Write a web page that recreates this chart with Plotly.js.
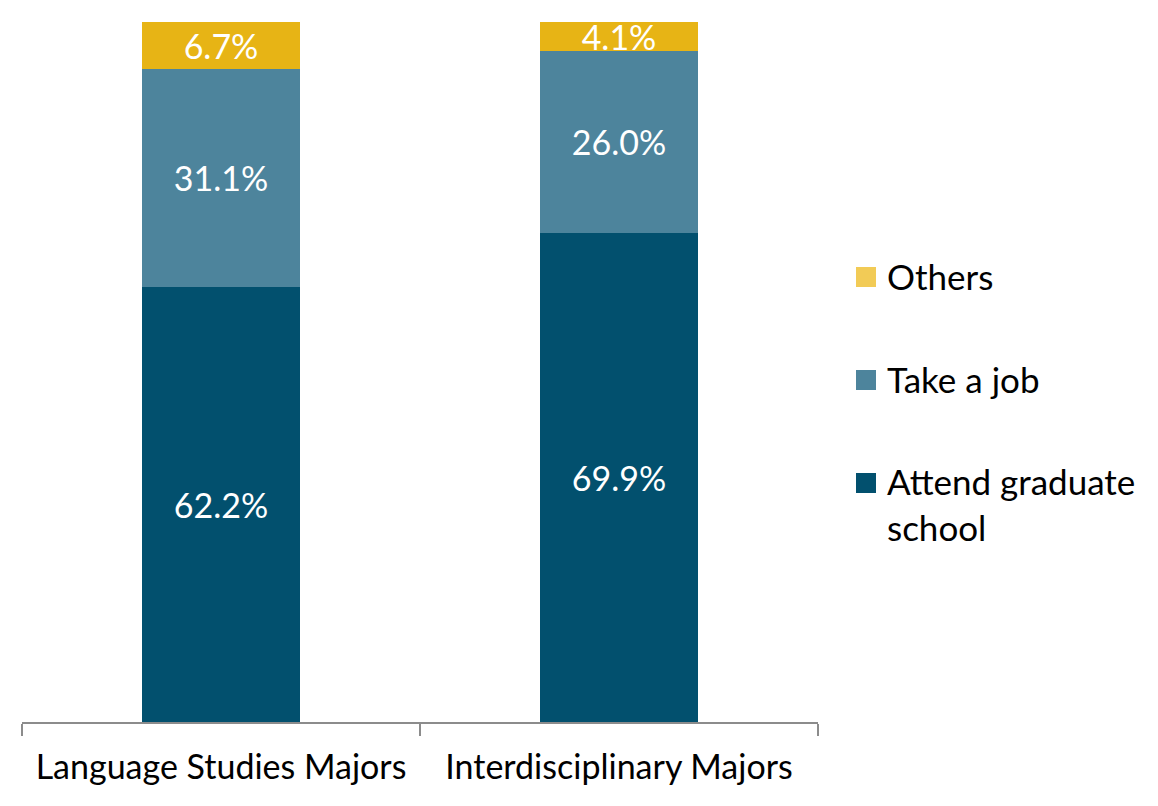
<!DOCTYPE html>
<html>
<head>
<meta charset="utf-8">
<script src="https://cdn.plot.ly/plotly-3.0.1.min.js"></script>
<style>html,body{margin:0;padding:0;background:#fff}#chart{width:1158px;height:806px}</style>
</head>
<body>
<div id="chart"></div>
<script>
const categories = ["Language Studies Majors", "Interdisciplinary Majors"];
const attendGrad = [62.2, 69.9];
const takeJob = [31.1, 26.0];
const others = [6.7, 4.1];
const seriesNames = ["Attend graduate<br>school", "Take a job", "Others"];
const barColors = ["#02506E", "#4D849C", "#E7B415"];
const legendColors = ["#02506E", "#4D849C", "#F2CB56"];

const FONT = "Lato, 'Open Sans', sans-serif";
const seriesValues = [attendGrad, takeJob, others];

const traces = seriesValues.map((vals, i) => ({
  type: "bar",
  x: categories,
  y: vals,
  name: seriesNames[i],
  marker: {color: barColors[i]},
  text: vals.map(v => v.toFixed(1) + "%"),
  textposition: "inside",
  insidetextanchor: "middle",
  constraintext: "none",
  cliponaxis: false,
  textfont: {family: FONT, size: 34, color: "#ffffff"},
  hoverinfo: "skip",
  showlegend: false
}));

// Manual legend (top to bottom: Others, Take a job, Attend graduate school)
const L = 22, R = 818, T = 22, B = 722;
const px = x => (x - L) / (R - L);
const py = y => (B - y) / (B - T);
const legendOrder = [2, 1, 0];
const legendCenters = [277, 380, 483];
const legendTextY = [276, 379, 504];
const shapes = [];
const annotations = [];
legendOrder.forEach((si, k) => {
  const cy = legendCenters[k];
  shapes.push({type: "rect", xref: "paper", yref: "paper",
    x0: px(856), x1: px(876), y0: py(cy + 10), y1: py(cy - 10),
    fillcolor: legendColors[si], line: {width: 0}});
  annotations.push({xref: "paper", yref: "paper", x: px(885), y: py(legendTextY[k]),
    xanchor: "left", yanchor: "middle", align: "left", showarrow: false,
    text: seriesNames[si], font: {family: FONT, size: 35, color: "#000000"}});
});

const layout = {
  width: 1158, height: 806,
  margin: {l: L, r: 1158 - R, t: T, b: 806 - B, pad: 0},
  paper_bgcolor: "#ffffff", plot_bgcolor: "#ffffff",
  barmode: "stack",
  bargap: 0.603,
  showlegend: false,
  xaxis: {
    type: "category",
    showline: true, linecolor: "#8C8C8C", linewidth: 1.5,
    ticks: "outside", tickson: "boundaries", ticklen: 12, tickcolor: "#8C8C8C", tickwidth: 1.5,
    ticklabelstandoff: 15,
    tickfont: {family: FONT, size: 34, color: "#000000"},
    showgrid: false, zeroline: false, fixedrange: true
  },
  yaxis: {visible: false, range: [0, 100.001], showgrid: false, zeroline: false, fixedrange: true},
  shapes: shapes,
  annotations: annotations,
  font: {family: FONT}
};

Plotly.newPlot("chart", traces, layout, {displayModeBar: false, staticPlot: true});
</script>
</body>
</html>
